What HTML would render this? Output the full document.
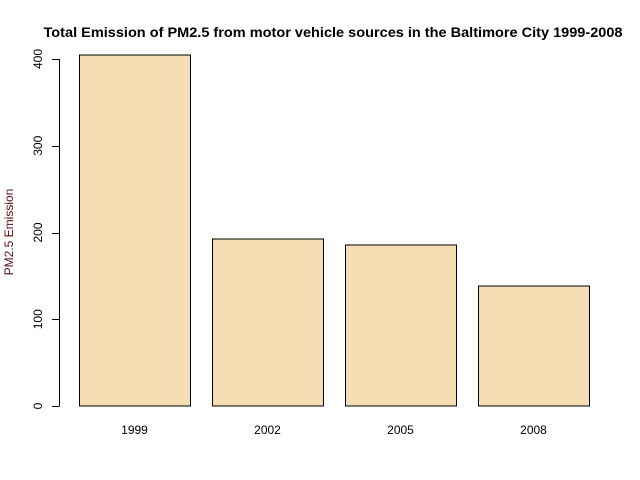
<!DOCTYPE html>
<html><head><meta charset="utf-8"><style>
body{margin:0;background:#fff}
svg{display:block;font-family:"Liberation Sans",Arial,sans-serif}
</style></head><body>
<svg id="chart" width="640" height="480">
<text x="333" y="37" text-anchor="middle" font-size="14" font-weight="bold" textLength="579" lengthAdjust="spacingAndGlyphs">Total Emission of PM2.5 from motor vehicle sources in the Baltimore City 1999-2008</text>
<text transform="translate(13,232) rotate(-90)" text-anchor="middle" font-size="12" fill="#5a0c0c">PM2.5 Emission</text>
<g id="bars"></g><g id="yaxis"></g><g id="xlabels"></g>
</svg>
<script>
const categories=["1999","2002","2005","2008"];
const emissions=[404.6,192.5,185.6,138.3];
const yTicks=[0,100,200,300,400];
const NS="http://www.w3.org/2000/svg";
function y(v){return 406-v*347/400;}
function x(i){return 79+i*133;}
const bw=111;
const bars=document.getElementById('bars');
emissions.forEach((v,i)=>{
 const r=document.createElementNS(NS,'rect');
 r.setAttribute('x',x(i)+0.5);r.setAttribute('y',y(v));
 r.setAttribute('width',bw);r.setAttribute('height',406-y(v));
 r.setAttribute('fill','#f5deb3');r.setAttribute('stroke','#000');
 
 
 bars.appendChild(r);
 const t=document.createElementNS(NS,'text');
 t.setAttribute('x',x(i)+bw/2);t.setAttribute('y',434);
 t.setAttribute('text-anchor','middle');t.setAttribute('font-size','12');
 t.textContent=categories[i];
 
 
 document.getElementById('xlabels').appendChild(t);
});
const ya=document.getElementById('yaxis');
const ax=document.createElementNS(NS,'line');
ax.setAttribute('x1',59.5);ax.setAttribute('x2',59.5);
ax.setAttribute('y1',y(yTicks[0]));ax.setAttribute('y2',y(yTicks[yTicks.length-1]));
ax.setAttribute('stroke','#000');


ya.appendChild(ax);
yTicks.forEach(v=>{
 const l=document.createElementNS(NS,'line');
 l.setAttribute('x1',52);l.setAttribute('x2',59.5);
 l.setAttribute('y1',Math.round(y(v))+0.5);l.setAttribute('y2',Math.round(y(v))+0.5);
 l.setAttribute('stroke','#000');
 
 
 ya.appendChild(l);
 const t=document.createElementNS(NS,'text');
 t.setAttribute('transform','translate(42,'+y(v)+') rotate(-90)');
 t.setAttribute('text-anchor','middle');t.setAttribute('font-size','12');
 t.textContent=v;
 
 
 ya.appendChild(t);
});
</script>
</body></html>
